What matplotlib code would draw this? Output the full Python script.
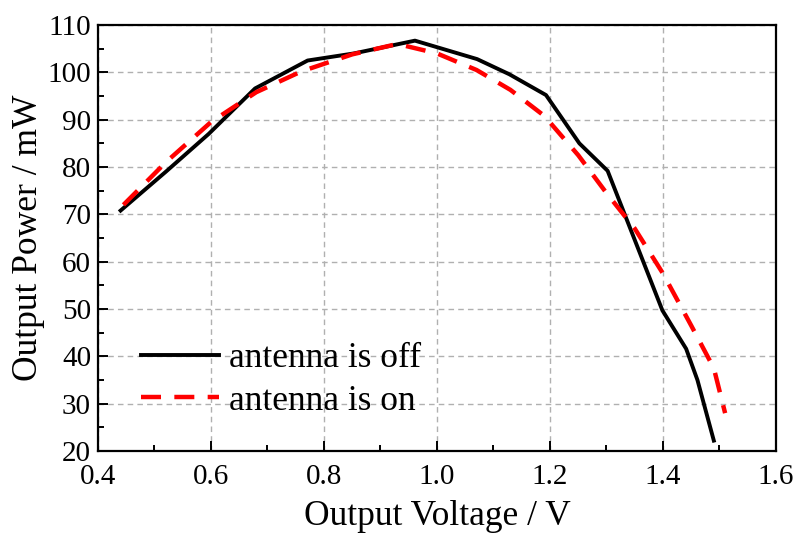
import matplotlib
matplotlib.use("Agg")
import matplotlib.pyplot as plt
from matplotlib.ticker import MultipleLocator

off_v = [0.44, 0.52, 0.596, 0.678, 0.771, 0.853, 0.961, 1.071, 1.128, 1.193, 1.252, 1.302, 1.399, 1.441, 1.461, 1.490]
off_p = [70.8, 79.0, 87.0, 96.6, 102.5, 104.0, 106.7, 102.8, 99.6, 95.2, 85.0, 79.2, 49.7, 41.6, 35.0, 22.2]

on_v = [0.445, 0.52, 0.60, 0.68, 0.76, 0.85, 0.93, 1.00, 1.07, 1.13, 1.19, 1.25, 1.30, 1.35, 1.40, 1.45, 1.49, 1.51]
on_p = [72.0, 81.0, 89.5, 95.8, 100.2, 103.8, 106.0, 104.0, 100.5, 96.3, 90.8, 82.5, 74.5, 67.0, 57.5, 46.5, 37.5, 28.0]

labels = ["antenna is off", "antenna is on"]

plt.rcParams['font.family'] = ['Liberation Serif', 'DejaVu Serif']
plt.rcParams['mathtext.fontset'] = 'stix'

fig = plt.figure(figsize=(7.98, 5.37), dpi=100)
ax = fig.add_axes([0.1228, 0.1601, 0.8496, 0.7933])

ax.plot(off_v, off_p, color='black', lw=2.8, label=labels[0], zorder=3)
ax.plot(on_v, on_p, color='red', lw=3.2, dashes=(4.5, 3.0), label=labels[1], zorder=3)

ax.set_xlim(0.4, 1.6)
ax.set_ylim(20, 110)
ax.xaxis.set_major_locator(MultipleLocator(0.2))
ax.xaxis.set_minor_locator(MultipleLocator(0.1))
ax.yaxis.set_major_locator(MultipleLocator(10))
ax.yaxis.set_minor_locator(MultipleLocator(5))
ax.xaxis.set_major_formatter(matplotlib.ticker.FormatStrFormatter('%.1f'))

ax.tick_params(which='both', direction='in', top=False, right=False, labelsize=21, width=1.4)
ax.tick_params(which='major', length=7)
ax.tick_params(which='minor', length=4.5)
ax.tick_params(axis='x', pad=9.5)
ax.tick_params(axis='y', pad=5)
for s in ax.spines.values():
    s.set_linewidth(1.6)

ax.grid(True, which='major', color='#b0b0b0', linestyle=(0, (4, 3)), lw=1.0, zorder=0)

ax.set_xlabel("Output Voltage / V", fontsize=25.5, labelpad=7)
ax.set_ylabel("Output Power / mW", fontsize=25.5, labelpad=2)

ax.legend(loc='center left', bbox_to_anchor=(0.064, 0.167), frameon=False, fontsize=25.5,
          handlelength=2.2, handletextpad=0.28, borderpad=0, borderaxespad=0, labelspacing=0.27)

fig.savefig("out.png", dpi=100)
